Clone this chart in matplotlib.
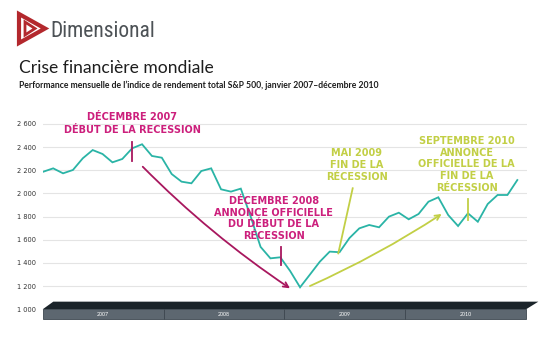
import matplotlib
matplotlib.use('Agg')
import matplotlib.pyplot as plt
from matplotlib.patches import Polygon, Rectangle
import numpy as np

# ---------------- data ----------------
values = [2188, 2217, 2174, 2203, 2304, 2375, 2341, 2269, 2298, 2390, 2425, 2324,
          2309, 2168, 2102, 2088, 2194, 2217, 2036, 2016, 2042, 1800, 1539, 1440,
          1449, 1330, 1190, 1300, 1411, 1498, 1493, 1615, 1699, 1728, 1708, 1800,
          1834, 1777, 1823, 1929, 1967, 1814, 1719, 1829, 1756, 1909, 1987, 1987, 2116]
months = np.arange(len(values))
years = ['2007', '2008', '2009', '2010']
yticks = [1000, 1200, 1400, 1600, 1800, 2000, 2200, 2400, 2600]
ytick_labels = ['1 000', '1 200', '1 400', '1 600', '1 800', '2 000', '2 200', '2 400', '2 600']

title = 'Crise financière mondiale'
subtitle = "Performance mensuelle de l’indice de rendement total S&P 500, janvier 2007–décembre 2010"
brand = 'Dimensional'

note_dec07 = 'DÉCEMBRE 2007\nDÉBUT DE LA RECESSION'
note_dec08 = 'DÉCEMBRE 2008\nANNONCE OFFICIELLE\nDU DÉBUT DE LA\nRÉCESSION'
note_mai09 = 'MAI 2009\nFIN DE LA\nRÉCESSION'
note_sep10 = 'SEPTEMBRE 2010\nANNONCE\nOFFICIELLE DE LA\nFIN DE LA\nRÉCESSION'

# ---------------- style ----------------
TEAL = '#2ab4a6'
MAGENTA = '#cc1f7c'
MAGENTA_D = '#a8175e'
LIME = '#c2cf45'
ANN_FONT = ['DejaVu Sans']

fig = plt.figure(figsize=(5.6, 3.59), dpi=100)

# overlay for header (pixel coordinates)
hdr = fig.add_axes([0, 0, 1, 1])
hdr.set_xlim(0, 560)
hdr.set_ylim(359, 0)
hdr.axis('off')

# logo
red = '#b3282d'
hdr.add_patch(Polygon([(19, 14), (45, 28.5), (19, 43)], closed=True, fill=False,
                      edgecolor=red, lw=3.0, joinstyle='miter'))
hdr.add_patch(Polygon([(25, 22), (35, 28.5), (25, 35)], closed=True, fill=False,
                      edgecolor=red, lw=2.0, joinstyle='miter'))
hdr.text(50, 37, brand, fontsize=15.5, color='#4d5256', va='baseline', ha='left',
         family=['Roboto Condensed', 'DejaVu Sans'], fontstretch='condensed')
hdr.text(19, 73, title, fontsize=12.6, color='#1e1e1e', va='baseline', ha='left',
         family=['Lato', 'DejaVu Sans'])
hdr.text(19, 88.5, subtitle, fontsize=6.25, color='#1e1e1e', va='baseline', ha='left',
         family=['Lato', 'DejaVu Sans'], fontweight='bold')

# ---------------- chart axes ----------------
ax = fig.add_axes([43.3 / 560, 1 - 319 / 359, (527 - 43.3) / 560, (319 - 105) / 359])
ax.set_xlim(0, 48.98)
ax.set_ylim(916.2, 2764)
for s in ax.spines.values():
    s.set_visible(False)
ax.set_yticks(yticks)
ax.set_yticklabels(ytick_labels)
ax.set_xticks([])
ax.tick_params(axis='y', length=0, pad=5.5, labelsize=4.8, labelcolor='#333333')
ax.yaxis.grid(True, color='#e4e4e4', lw=0.8)
ax.set_axisbelow(True)
ax.patch.set_alpha(0)

ax.plot(months, values, color=TEAL, lw=1.3, zorder=4, solid_joinstyle='miter')

# 3D year bar
yw = 12.235
x0 = -0.06
top = Polygon([(x0, 1000), (x0 + 1.07, 1066), (x0 + 4 * yw + 1.25, 1066), (x0 + 4 * yw, 1000)],
              closed=True, facecolor='#1b242a', edgecolor='none', clip_on=False, zorder=3)
ax.add_patch(top)
for i, yr in enumerate(years):
    ax.add_patch(Rectangle((x0 + i * yw, 916.2), yw, 83.8, facecolor='#5d6770',
                           edgecolor='#3d474f', lw=0.6, clip_on=False, zorder=3))
    ax.text(x0 + (i + 0.5) * yw, 958, yr, color='white', fontsize=3.8,
            ha='center', va='center', zorder=5, family=['Lato', 'DejaVu Sans'])

# annotations
ann_kw = dict(fontsize=7, ha='center', va='center', family=ANN_FONT, zorder=6,
              fontweight='bold')
ax.text(8.98, 2603, note_dec07, color=MAGENTA, linespacing=1.4, **ann_kw)
ax.text(23.33, 1785, note_dec08, color=MAGENTA, linespacing=1.22, **ann_kw)
ax.text(31.74, 2247, note_mai09, color=LIME, linespacing=1.22, **ann_kw)
ax.text(42.88, 2252, note_sep10, color=LIME, linespacing=1.22, **ann_kw)

# markers / pointers
ax.plot([8.95, 8.95], [2442, 2280], color=MAGENTA_D, lw=1.3, zorder=5)
ax.plot([24.04, 24.04], [1540, 1382], color=MAGENTA_D, lw=1.3, zorder=5)
ax.plot([42.98, 42.98], [1950, 1771], color=LIME, lw=1.3, zorder=5)
ax.plot([31.33, 29.87], [2045, 1483], color=LIME, lw=1.3, zorder=5)

ax.annotate('', xy=(24.98, 1181), xytext=(10.07, 2231),
            arrowprops=dict(arrowstyle='->', color=MAGENTA_D, lw=1.3, shrinkA=0, shrinkB=0,
                            connectionstyle='arc3,rad=0.05', mutation_scale=9), zorder=5)
ax.annotate('', xy=(40.34, 1823), xytext=(27.0, 1201),
            arrowprops=dict(arrowstyle='->', color=LIME, lw=1.3, shrinkA=0, shrinkB=0,
                            connectionstyle='arc3,rad=0.04', mutation_scale=9), zorder=5)

fig.savefig('out.png', dpi=100)
